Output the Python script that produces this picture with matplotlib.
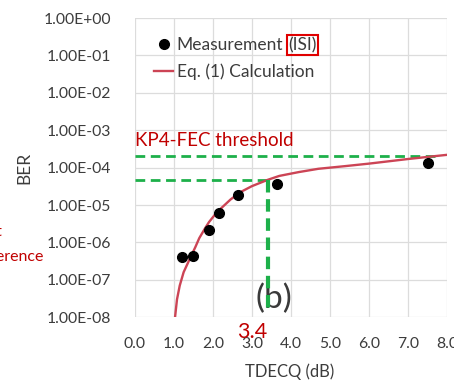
import matplotlib.pyplot as plt
import numpy as np

plt.rcParams['font.family'] = ['Lato', 'DejaVu Sans']

# measured BER points (ISI)
meas_x = [1.2, 1.5, 1.9, 2.15, 2.65, 3.65, 7.5]
meas_y = [4.0e-7, 4.2e-7, 2.1e-6, 6.0e-6, 1.8e-5, 3.6e-5, 1.35e-4]

# Eq. (1) calculation
calc_x = [1.03, 1.08, 1.15, 1.25, 1.4, 1.55, 1.65, 1.8, 1.9, 2.05, 2.2, 2.45, 2.7,
          3.0, 3.4, 3.7, 4.2, 4.7, 5.4, 6.0, 7.0, 8.0]
calc_y = [1.0e-8, 3.0e-8, 7.0e-8, 1.6e-7, 3.5e-7, 7.5e-7, 1.3e-6, 2.4e-6, 3.5e-6,
          5.5e-6, 8.0e-6, 1.4e-5, 2.2e-5, 3.2e-5, 4.7e-5, 6.0e-5, 7.6e-5, 9.3e-5,
          1.1e-4, 1.28e-4, 1.7e-4, 2.2e-4]

kp4_thr = 2.1e-4
ber_at_34 = 4.7e-5
tdecq_mark = 3.4

yticks = [1e0, 1e-1, 1e-2, 1e-3, 1e-4, 1e-5, 1e-6, 1e-7, 1e-8]
ytick_labels = ['1.00E+00', '1.00E-01', '1.00E-02', '1.00E-03', '1.00E-04',
                '1.00E-05', '1.00E-06', '1.00E-07', '1.00E-08']
xticks = [0, 1, 2, 3, 4, 5, 6, 7, 8]

green = '#1db04a'
red_txt = '#c00000'
grey_txt = '#3c3c3c'

fig = plt.figure(figsize=(4.54, 3.84), dpi=100)
ax = fig.add_axes([0.297, 0.174, 0.688, 0.779])

ax.set_yscale('log')
ax.set_xlim(0, 8)
ax.set_ylim(1e-8, 1e0)
ax.set_yticks(yticks)
ax.set_yticklabels(ytick_labels)
ax.minorticks_off()
ax.set_xticks(xticks)
ax.set_xticklabels(['%.1f' % v for v in xticks])
ax.tick_params(length=0, labelsize=11.3, labelcolor=grey_txt)
ax.tick_params(axis='y', pad=17)
ax.tick_params(axis='x', pad=14)
ax.grid(True, color='#dcdcdc', lw=0.9)
ax.set_axisbelow(True)
for s in ax.spines.values():
    s.set_visible(False)

# threshold guides
ax.plot([0, 7.75], [kp4_thr, kp4_thr], ls=(0, (3.5, 2)), color=green, lw=2, zorder=2)
ax.plot([0, tdecq_mark], [ber_at_34, ber_at_34], ls=(0, (3.5, 2)), color=green, lw=2, zorder=2)
ax.plot([tdecq_mark, tdecq_mark], [ber_at_34, 1.2e-8], ls=(0, (3, 1.6)), color=green, lw=3, zorder=5)

ax.plot(calc_x, calc_y, color='#cc4455', lw=1.7, label='Eq. (1) Calculation', zorder=3)
ax.plot(meas_x, meas_y, 'o', color='black', ms=7, label='Measurement', zorder=4)

h, l = ax.get_legend_handles_labels()
leg = ax.legend(h[::-1], l[::-1], loc='upper left', bbox_to_anchor=(0.04, 0.96),
                frameon=False, fontsize=12.5, handlelength=1.1, handletextpad=0.2,
                labelspacing=0.6, borderaxespad=0)
for t in leg.get_texts():
    t.set_color(grey_txt)

ax.set_xlabel('TDECQ (dB)', fontsize=12, color=grey_txt)
ax.xaxis.set_label_coords(0.497, -0.155)
ax.set_ylabel('BER', fontsize=12.5, color=grey_txt, va='center')
ax.yaxis.set_label_coords(-0.353, 0.5)

ax.text(0.0, 5.2e-4, 'KP4-FEC threshold', color=red_txt, fontsize=13.5, ha='left', va='center')
ax.text(3.56, 3.0e-8, '(b)', color='#3a3a3a', fontsize=24, ha='center', va='center', zorder=4)
ax.text(tdecq_mark - 0.4, 0.75e-8, '3.4', color=red_txt, fontsize=15.5, ha='center', va='top',
        clip_on=False, zorder=6)

fig.text(3 / 454, 1 - 232 / 384, 'test', color=red_txt, fontsize=11.5, ha='right', va='center')
fig.text(44 / 454, 1 - 257 / 384, 'reference', color=red_txt, fontsize=11.5, ha='right', va='center')

# red box around "(ISI)" right after the legend text
fig.canvas.draw()
mtxt = [t for t in leg.get_texts() if t.get_text() == 'Measurement'][0]
bb = mtxt.get_window_extent()
inv = fig.transFigure.inverted()
x0, y0 = inv.transform((bb.x1 + 5, (bb.y0 + bb.y1) / 2))
fig.text(x0, y0, '(ISI)', fontsize=12.5, color=grey_txt, ha='left', va='center',
         bbox=dict(boxstyle='square,pad=0.1', fc='none', ec='#e00000', lw=1.5))

fig.savefig('out.png', dpi=100)
